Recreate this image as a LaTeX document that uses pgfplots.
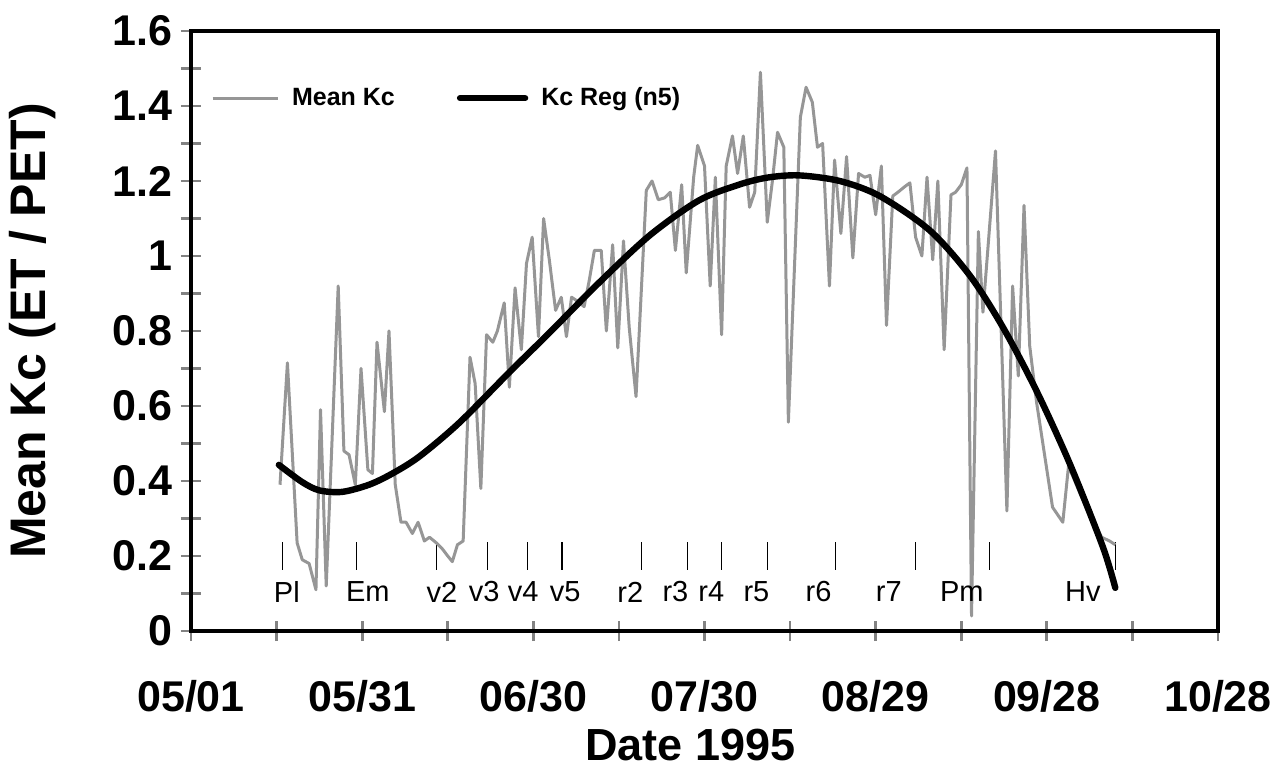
\documentclass[border=0pt]{standalone}
\usepackage{fontspec}
\setmainfont{Liberation Sans}
\usepackage{pgfplots}
\pgfplotsset{compat=1.18}

\definecolor{kcgray}{RGB}{150,150,150}
\definecolor{tickgray}{RGB}{130,130,130}

\begin{document}
\begin{tikzpicture}
\useasboundingbox (-95.5pt,-69.5pt) rectangle (541pt,315.5pt);
\begin{axis}[
  at={(0,0)}, anchor=south west,
  scale only axis,
  width=513.5pt, height=300pt,
  xmin=0, xmax=180, ymin=0, ymax=1.6,
  xtick={0,30,60,90,120,150,180},
  xticklabels={05/01,05/31,06/30,07/30,08/29,09/28,10/28},
  minor xtick={15,45,75,105,135,165},
  ytick={0,0.2,0.4,0.6,0.8,1.0,1.2,1.4,1.6},
  yticklabels={0,0.2,0.4,0.6,0.8,1,1.2,1.4,1.6},
  minor ytick={0.1,0.3,0.5,0.7,0.9,1.1,1.3,1.5},
  tick pos=left,
  tick align=center,
  major tick length=10pt, minor tick length=10pt,
  every tick/.style={draw=tickgray, line width=1.4pt},
  every minor tick/.style={draw=tickgray, line width=1.4pt},
  axis line style={line width=2.4pt},
  /pgf/number format/assume math mode=true,
  ticklabel style={font=\bfseries\fontsize{21.5}{24}\selectfont},
  xticklabel style={yshift=-16pt},
  yticklabel style={xshift=-1pt},
  xlabel={Date 1995},
  ylabel={Mean Kc (ET / PET)},
  every axis x label/.style={at={(axis description cs:0.486,-0.19)}, anchor=center,
    inner sep=0pt, font=\bfseries\fontsize{22.5}{25}\selectfont},
  every axis y label/.style={at={(axis description cs:-0.154,0.5)}, rotate=90, anchor=center,
    inner sep=0pt, font=\bfseries\fontsize{25}{28}\selectfont},
  legend columns=2,
  legend cell align=left,
  legend image code/.code={\draw[#1] (0pt,0pt) -- (32.5pt,0pt);},
  legend style={draw=none, fill=none, at={(axis cs:2.4,1.421)}, anchor=west,
    font=\bfseries\fontsize{12.5}{15}\selectfont,
    /tikz/every odd column/.append style={column sep=4.5pt},
    /tikz/every even column/.append style={column sep=29pt}},
]
% phenological stage markers
\addplot[black, line width=0.7pt, unbounded coords=jump, forget plot] coordinates {
(16,0.163) (16,0.237) (16,nan)
(29,0.163) (29,0.237) (29,nan)
(43,0.163) (43,0.237) (43,nan)
(52,0.163) (52,0.237) (52,nan)
(59,0.163) (59,0.237) (59,nan)
(65,0.163) (65,0.237) (65,nan)
(79,0.163) (79,0.237) (79,nan)
(87,0.163) (87,0.237) (87,nan)
(93,0.163) (93,0.237) (93,nan)
(101,0.163) (101,0.237) (101,nan)
(113,0.163) (113,0.237) (113,nan)
(127,0.163) (127,0.237) (127,nan)
(140,0.163) (140,0.237) (140,nan)
(162,0.163) (162,0.237)
};

\addplot[kcgray, line width=1.5pt, line join=round] coordinates {
(15.6,0.39) (16.9,0.715) (18.6,0.235) (19.5,0.19) (20.7,0.18) (21.9,0.11)
(22.7,0.59) (23.7,0.12) (25.8,0.92) (26.8,0.48) (27.7,0.47) (28.8,0.39)
(29.8,0.70) (31.0,0.43) (31.8,0.42) (32.6,0.77) (33.9,0.585) (34.7,0.80)
(35.8,0.39) (36.8,0.29) (37.7,0.29) (38.8,0.26) (39.8,0.29) (40.9,0.24)
(41.8,0.25) (43.0,0.235) (44.0,0.22) (45.0,0.20) (45.8,0.185) (46.7,0.23)
(47.7,0.24) (48.9,0.73) (49.8,0.66) (50.8,0.38) (51.8,0.79) (52.9,0.77)
(53.7,0.80) (54.9,0.875) (55.8,0.65) (56.8,0.915) (57.9,0.75) (58.8,0.98)
(59.8,1.05) (60.9,0.785) (61.8,1.10) (62.8,0.99) (63.9,0.855) (64.9,0.89)
(65.8,0.785) (66.7,0.89) (67.7,0.88) (68.9,0.865) (69.8,0.935) (70.7,1.015)
(71.9,1.015) (72.8,0.80) (73.9,1.03) (74.8,0.755) (75.8,1.04) (76.8,0.81)
(78.0,0.625) (79.8,1.175) (80.8,1.20) (81.9,1.15) (83.0,1.155) (84.0,1.17)
(84.9,1.015) (86.0,1.19) (86.8,0.955) (88.1,1.21) (88.8,1.295) (90.0,1.24)
(91.0,0.92) (91.9,1.21) (93.0,0.79) (93.8,1.24) (94.9,1.32) (95.8,1.22)
(96.8,1.32) (97.9,1.13) (98.8,1.17) (99.8,1.49) (101.0,1.09) (101.9,1.20)
(102.8,1.33) (103.9,1.29) (104.7,0.557) (106.8,1.37) (107.8,1.45) (108.9,1.41)
(109.8,1.29) (110.7,1.30) (111.9,0.92) (112.8,1.256) (113.9,1.06) (114.9,1.265)
(116.0,0.995) (117.0,1.22) (118.1,1.21) (119.0,1.215) (120.0,1.11) (121.0,1.24)
(121.9,0.815) (123.0,1.16) (123.9,1.17) (125.1,1.185) (126.0,1.195) (127.0,1.05)
(128.1,1.00) (129.0,1.21) (130.0,0.99) (130.9,1.20) (132.0,0.75) (133.2,1.163)
(134.0,1.17) (135.0,1.19) (136.0,1.235) (136.8,0.04) (138.0,1.065) (138.8,0.85)
(141.0,1.28) (143.0,0.32) (144.0,0.92) (145.0,0.68) (146.0,1.135) (147.0,0.76)
(148.2,0.61) (151.0,0.33) (152.8,0.29) (153.8,0.44) (156.0,0.36) (158.0,0.30)
(159.6,0.25) (161.0,0.24) (162.0,0.23)
};
\addlegendentry{Mean Kc}

\addplot[black, line width=3.2pt, line cap=round, smooth] coordinates {
(15.4,0.443) (19.5,0.397) (22.5,0.375) (26.5,0.371) (31.2,0.39) (35.3,0.42)
(40,0.465) (47,0.555) (55.8,0.69) (62.8,0.795) (71.6,0.93) (80.4,1.055)
(89,1.148) (96,1.19) (101,1.209) (106.5,1.215) (113.7,1.200) (120.7,1.16)
(129.5,1.068) (136.5,0.948) (142.3,0.81) (148.2,0.64) (154,0.447)
(159.8,0.225) (162,0.115)
};
\addlegendentry{Kc Reg (n5)}

\begin{scope}[every node/.style={font=\fontsize{14.5}{16}\selectfont, inner sep=0pt}]
\node at (axis cs:16.8,0.104) {Pl};
\node at (axis cs:31,0.104) {Em};
\node at (axis cs:44,0.104) {v2};
\node at (axis cs:51.4,0.104) {v3};
\node at (axis cs:58.2,0.104) {v4};
\node at (axis cs:65.6,0.104) {v5};
\node at (axis cs:77,0.104) {r2};
\node at (axis cs:84.9,0.104) {r3};
\node at (axis cs:91.2,0.104) {r4};
\node at (axis cs:99.1,0.104) {r5};
\node at (axis cs:110,0.104) {r6};
\node at (axis cs:122.3,0.104) {r7};
\node at (axis cs:135.1,0.104) {Pm};
\node at (axis cs:156.3,0.104) {Hv};
\end{scope}
\end{axis}
\end{tikzpicture}
\end{document}
